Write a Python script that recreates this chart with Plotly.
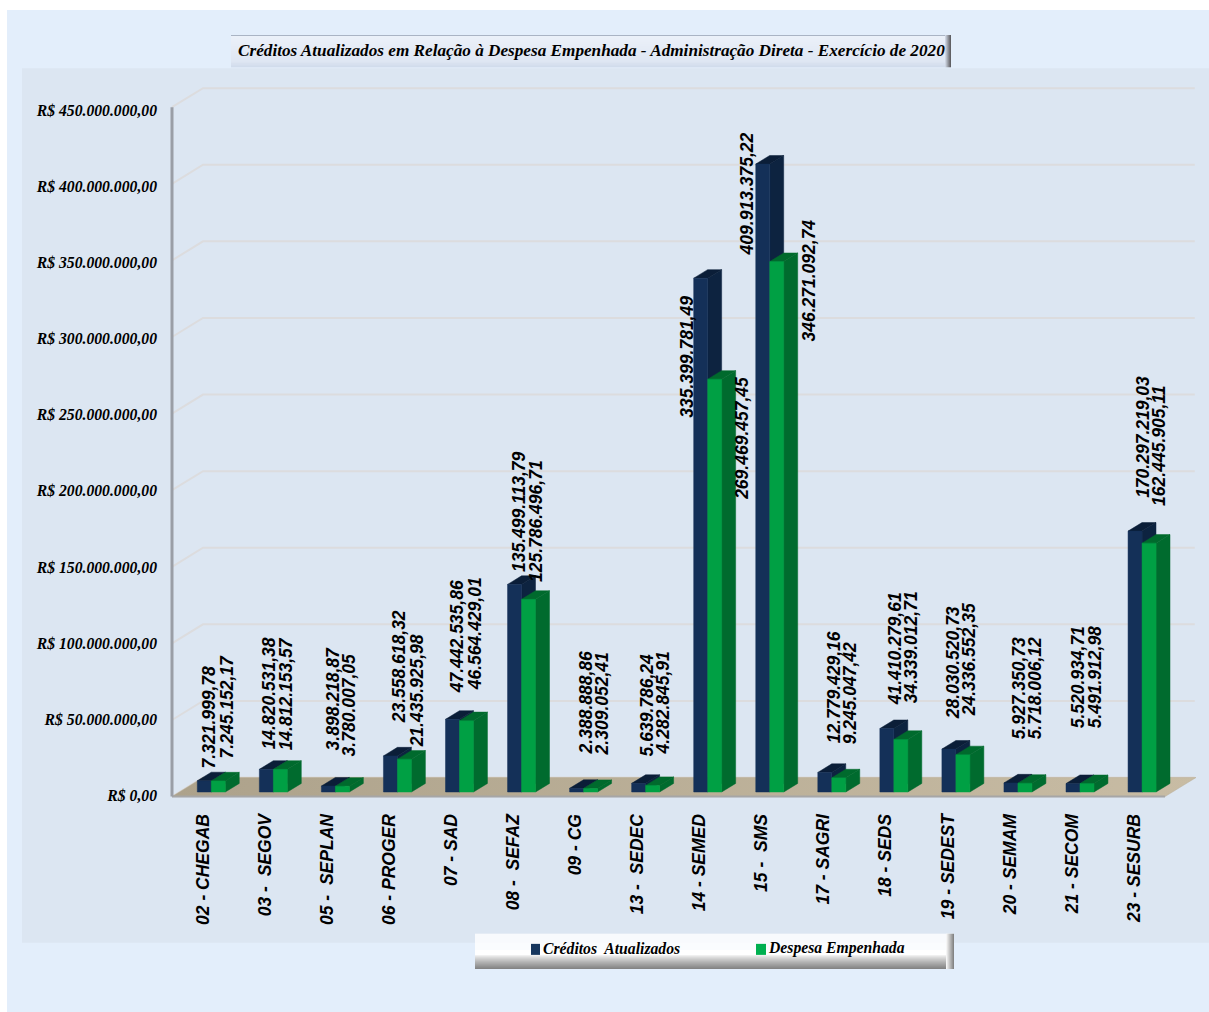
import plotly.graph_objects as go

categorias = ["02 - CHEGAB", "03 -\u00a0 SEGOV", "05 -\u00a0 SEPLAN", "06 - PROGER", "07 - SAD", "08 -\u00a0 SEFAZ",
              "09 - CG", "13 -\u00a0 SEDEC", "14 - SEMED", "15 -\u00a0 SMS", "17 - SAGRI", "18 - SEDS",
              "19 - SEDEST", "20 - SEMAM", "21 - SECOM", "23 - SESURB"]
creditos = [7321999.78, 14820531.38, 3898218.87, 23558618.32, 47442535.86, 135499113.79,
            2388888.86, 5639786.24, 335399781.49, 409913375.22, 12779429.16, 41410279.61,
            28030520.73, 5927350.73, 5520934.71, 170297219.03]
despesa = [7245152.17, 14812153.57, 3780007.05, 21435925.98, 46564429.01, 125786496.71,
           2309052.41, 4282845.91, 269469457.45, 346271092.74, 9245047.42, 34339012.71,
           24336552.35, 5718006.12, 5491912.98, 162445905.11]
creditos_txt = ["7.321.999,78", "14.820.531,38", "3.898.218,87", "23.558.618,32", "47.442.535,86", "135.499.113,79",
                "2.388.888,86", "5.639.786,24", "335.399.781,49", "409.913.375,22", "12.779.429,16", "41.410.279,61",
                "28.030.520,73", "5.927.350,73", "5.520.934,71", "170.297.219,03"]
despesa_txt = ["7.245.152,17", "14.812.153,57", "3.780.007,05", "21.435.925,98", "46.564.429,01", "125.786.496,71",
               "2.309.052,41", "4.282.845,91", "269.469.457,45", "346.271.092,74", "9.245.047,42", "34.339.012,71",
               "24.336.552,35", "5.718.006,12", "5.491.912,98", "162.445.905,11"]
y_ticks = [0, 50e6, 100e6, 150e6, 200e6, 250e6, 300e6, 350e6, 400e6, 450e6]
y_labels = ["R$ 0,00", "R$ 50.000.000,00", "R$ 100.000.000,00", "R$ 150.000.000,00", "R$ 200.000.000,00",
            "R$ 250.000.000,00", "R$ 300.000.000,00", "R$ 350.000.000,00", "R$ 400.000.000,00", "R$ 450.000.000,00"]
titulo = "Créditos Atualizados em Relação à Despesa Empenhada - Administração Direta - Exercício de 2020"

# label placement (page pixels: x centre, y centre)
pos_creditos = [(209, 716), (269, 692), (333, 698), (399, 666), (457, 636), (519, 511), (586, 702), (647, 704),
                (687, 356), (747, 193), (834, 686), (895, 648), (953, 662), (1019, 687), (1078, 676), (1143, 436)]
pos_despesa = [(227, 706), (286, 693), (349, 704), (417, 690), (475, 633), (536, 520), (602, 703), (663, 702),
               (742, 438), (809, 280), (850, 692), (911, 646), (969, 659), (1035, 687), (1095, 676), (1159, 445)]

W, H = 1209, 1012
LAYOUT_H = H + 4        # the page draws the figure 4 px shorter than asked
PX_X = 62.05            # pixels per category
PX_Y = 688 / 450e6      # pixels per real
X0_PX, Y0_PX = 211.3, 795
L_PX, R_PX, B_PX, T_PX = 164, 1204, 800, 80
DX, DY = 31 / PX_X, 19 / PX_Y          # full wall depth in axis units
BAR_W = 14 / PX_X
Z_FRONT, Z_BACK = 0.24, 0.69           # depth of bar faces, as a share of the wall depth
FLOOR_L, FLOOR_R = (172 - X0_PX) / PX_X, (1165 - X0_PX) / PX_X
TICK_TEXT_SCALE = 76 / 76.44           # tick texts are spaced a little tighter than the grid
TICK_TEXT_LIFT = 1 / PX_Y


def px(v):
    return v / W


def py(v):
    return 1 - v / H


def proj(x, v, z):
    return x + (z - Z_FRONT) * DX, v + z * DY


def faces(values, shift):
    """front, side and top polygons of a series of 3-D columns"""
    out = {"front": ([], []), "side": ([], []), "top": ([], [])}
    for i, v in enumerate(values):
        x1, x2 = i + shift - BAR_W, i + shift
        a = proj(x1, 0, Z_FRONT); b = proj(x2, 0, Z_FRONT)
        c = proj(x2, v, Z_FRONT); d = proj(x1, v, Z_FRONT)
        e = proj(x2, 0, Z_BACK); f = proj(x2, v, Z_BACK); g = proj(x1, v, Z_BACK)
        for name, pts in (("front", (a, b, c, d, a)), ("side", (b, e, f, c, b)), ("top", (d, c, f, g, d))):
            for p in pts:
                out[name][0].append(p[0]); out[name][1].append(p[1])
            out[name][0].append(None); out[name][1].append(None)
    return out


def poly(xy, color, name):
    return go.Scatter(x=xy[0], y=xy[1], mode="lines", fill="toself", fillcolor=color,
                      line=dict(color=color, width=0.5), name=name, showlegend=False,
                      hoverinfo="name")


fig = go.Figure()

# wall grid lines
gx, gy = [], []
for v in y_ticks:
    gx += [FLOOR_L, FLOOR_L + DX, FLOOR_R + DX - 0.02, None]
    gy += [v, v + DY, v + DY, None]
fig.add_trace(go.Scatter(x=gx, y=gy, mode="lines", line=dict(color="#DCDCDE", width=2),
                         hoverinfo="skip", showlegend=False))

# floor
fig.add_trace(go.Scatter(
    x=[FLOOR_L, FLOOR_R, FLOOR_R + DX, FLOOR_L + DX, FLOOR_L], y=[0, 0, DY, DY, 0],
    mode="lines", fill="toself", line=dict(color="#B9AD95", width=0.5),
    fillgradient=dict(type="horizontal", colorscale=[[0, "#ADA28B"], [1, "#C8BCA4"]]),
    hoverinfo="skip", showlegend=False))
fig.add_trace(go.Scatter(x=[FLOOR_L, FLOOR_R], y=[0, 0], mode="lines", line=dict(color="#A6A6A6", width=2),
                         hoverinfo="skip", showlegend=False))

# value axis line
fig.add_trace(go.Scatter(x=[FLOOR_L, FLOOR_L], y=[y_ticks[0], y_ticks[-1]], mode="lines",
                         line=dict(color="#9A9EA6", width=3), hoverinfo="skip", showlegend=False))

# columns
azul = faces(creditos, 0)
verde = faces(despesa, BAR_W)
fig.add_trace(poly(azul["side"], "#0D2340", "Créditos Atualizados"))
fig.add_trace(poly(azul["top"], "#0B1E38", "Créditos Atualizados"))
fig.add_trace(poly(azul["front"], "#143058", "Créditos Atualizados"))
fig.add_trace(poly(verde["side"], "#006B2E", "Despesa Empenhada"))
fig.add_trace(poly(verde["top"], "#006A2D", "Despesa Empenhada"))
fig.add_trace(poly(verde["front"], "#00A044", "Despesa Empenhada"))

shapes = [
    dict(type="rect", xref="paper", yref="paper", x0=px(7), x1=1, y0=0, y1=py(10),
         fillcolor="#E3EEFB", line_width=0, layer="below"),
    dict(type="rect", xref="paper", yref="paper", x0=px(22), x1=1, y0=py(941), y1=py(68),
         fillcolor="#DCE6F2", line_width=0, layer="below"),
]


def mix(c1, c2, t):
    return "rgb(%d,%d,%d)" % tuple(round(a + (b - a) * t) for a, b in zip(c1, c2))


def band(x0, x1, y0, y1, col, layer="below"):
    return dict(type="rect", xref="paper", yref="paper", x0=px(x0), x1=px(x1), y0=py(y1), y1=py(y0),
                fillcolor=col, line_width=0, layer=layer)


# title box
TB = (231, 951, 35, 67)
for k in range(TB[2], TB[3]):
    t = (k - TB[2]) / (TB[3] - TB[2] - 1)
    if k == TB[2]:
        col = "rgb(170,180,196)"
    elif t < 0.85:
        col = mix((236, 241, 249), (222, 230, 243), t / 0.85)
    else:
        col = mix((222, 230, 243), (205, 215, 232), (t - 0.85) / 0.15)
    shapes.append(band(TB[0], TB[1], k, k + 1, col))
for k in range(6):
    shapes.append(band(TB[1] - 6 + k, TB[1] - 5 + k, TB[2], TB[3], mix((205, 212, 225), (96, 96, 100), k / 5)))

# legend box
LB = (475, 954, 932, 967)
for k in range(LB[2], LB[3]):
    t = max(0, (k - 952) / (LB[3] - 953))
    shapes.append(band(LB[0], LB[1], k, k + 1, mix((255, 255, 255), (132, 132, 132), t ** 0.8)))
for k in range(8):
    shapes.append(band(LB[1] - 8 + k, LB[1] - 7 + k, LB[2], LB[3], mix((245, 245, 245), (132, 132, 132), k / 7)))
shapes.append(band(531, 540, 942, 953, "#17375E", "above"))
shapes.append(band(756, 766, 942, 953, "#00B050", "above"))

SERIF = "Liberation Serif"
SANS = "Liberation Sans"


def note(x, y, text, family, size, xanchor="center", angle=0):
    return dict(xref="paper", yref="paper", x=px(x), y=py(y), text="<b><i>%s</i></b>" % text, showarrow=False,
                xanchor=xanchor, yanchor="middle", textangle=angle,
                font=dict(family=family, size=size, color="#000000"))


annotations = [
    note(591, 50, titulo, SERIF, 17.2),
    note(541, 946.5, "Créditos\u00a0 Atualizados", SERIF, 15.7, "left"),
    note(766, 946.5, "Despesa Empenhada", SERIF, 15.7, "left"),
]
for txts, poss in ((creditos_txt, pos_creditos), (despesa_txt, pos_despesa)):
    for t, (ax, ay) in zip(txts, poss):
        annotations.append(note(ax, ay, t, SANS, 17.5, angle=-90))

fig.update_layout(
    width=W, height=LAYOUT_H, autosize=False, margin=dict(l=0, r=0, t=0, b=0, pad=0),
    paper_bgcolor="#FFFFFF", plot_bgcolor="rgba(0,0,0,0)", showlegend=False,
    shapes=shapes, annotations=annotations,
    xaxis=dict(domain=[px(L_PX), px(R_PX)], range=[(L_PX - X0_PX) / PX_X, (R_PX - X0_PX) / PX_X],
               tickmode="array", tickvals=[i - 0.13 for i in range(len(categorias))], ticktext=categorias,
               tickangle=-90, ticks="", showgrid=False, zeroline=False, showline=False, ticklabelstandoff=8,
               tickfont=dict(family=SANS, size=17.5, color="#000000", weight="bold", style="italic")),
    yaxis=dict(domain=[py(B_PX), py(T_PX)], range=[(Y0_PX - B_PX) / PX_Y, (Y0_PX - T_PX) / PX_Y],
               tickmode="array", tickvals=[v * TICK_TEXT_SCALE + TICK_TEXT_LIFT for v in y_ticks], ticktext=y_labels,
               ticks="", showgrid=False, zeroline=False, showline=False, ticklabelstandoff=6,
               tickfont=dict(family=SERIF, size=15.7, color="#000000", weight="bold", style="italic")),
)
fig.write_html("out.html", config={"displayModeBar": False},
               post_script="document.body.style.margin='0';document.documentElement.style.overflow='hidden';")
